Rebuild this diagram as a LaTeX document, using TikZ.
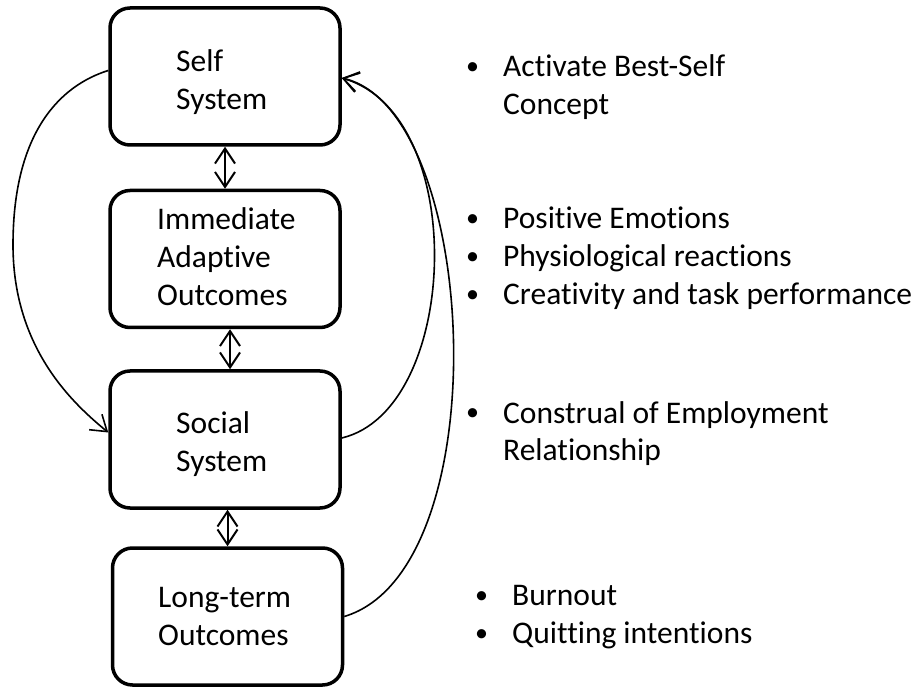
\documentclass[tikz,border=0pt]{standalone}
\usepackage{fontspec}
\setmainfont[Ligatures={NoCommon,NoContextual}]{Carlito}
\usetikzlibrary{arrows.meta}
\newcommand\itemdot{\raisebox{2pt}{\fontsize{26}{26}\selectfont •}}
\begin{document}
\begin{tikzpicture}[x=1pt,y=-1pt,
  box/.style={draw, line width=3.5pt, rounded corners=20pt,
    minimum width=230pt, minimum height=137pt, inner sep=0pt},
  boxtext/.style={anchor=base west, inner sep=0pt,
    font=\fontsize{31.5}{38}\selectfont},
  item/.style={anchor=base west, inner sep=0pt,
    font=\fontsize{31.5}{38}\selectfont},
  barb/.tip={Straight Barb[length=15pt,width=20pt]},
  link/.style={line width=2pt, barb-barb},
  feedback/.style={line width=1.6pt, -barb}]
\useasboundingbox (0,0) rectangle (922,687);

% the four stages
\node[box] (self) at (225,76.5) {};
\node[box] (imm)  at (225,259) {};
\node[box] (soc)  at (225,439.5) {};
\node[box] (long) at (227.5,616.5) {};

\node[boxtext] (selfT) at (176,72)
  {\begin{tabular}[t]{@{}l@{}}Self\\System\end{tabular}};
\node[boxtext] (immT) at (157,230)
  {\begin{tabular}[t]{@{}l@{}}Immediate\\Adaptive\\Outcomes\end{tabular}};
\node[boxtext] (socT) at (176,433)
  {\begin{tabular}[t]{@{}l@{}}Social\\System\end{tabular}};
\node[boxtext] (longT) at (158,607)
  {\begin{tabular}[t]{@{}l@{}}Long-term\\Outcomes\end{tabular}};

% two-way links between neighbouring stages
\draw[link] (self.south) -- (imm.north);
\draw[link] ([xshift=5pt]imm.south) -- ([xshift=5pt]soc.north);
\draw[link] ([xshift=2.5pt]soc.south) -- (long.north);

% self system feeds the social system
\draw[feedback] ([yshift=6pt]self.west)
  .. controls (62,85) and (13,130) .. (13,245)
  .. controls (13,350) and (75,405) .. ([yshift=7pt]soc.west);

% feedback to the self system
\draw[feedback] ([yshift=1.5pt]soc.east)
  .. controls (460,410) and (470,115) .. ([yshift=-1.5pt]self.east);
\draw[feedback] (long.east)
  .. controls (500,570) and (480,110) .. ([yshift=-1.5pt]self.east);

% outcomes listed beside each stage
\node[item] (selfL) at (466,77)
  {\begin{tabular}[t]{@{}p{37pt}@{}l@{}}\itemdot&Activate Best-Self\\&Concept\end{tabular}};
\node[item] (immL) at (466,229)
  {\begin{tabular}[t]{@{}p{37pt}@{}l@{}}\itemdot&Positive Emotions\\\itemdot&Physiological reactions\\\itemdot&Creativity and task performance\end{tabular}};
\node[item] (socL) at (466,423)
  {\begin{tabular}[t]{@{}p{37pt}@{}l@{}}\itemdot&Construal of Employment\\&Relationship\end{tabular}};
\node[item] (longL) at (475,605)
  {\begin{tabular}[t]{@{}p{37pt}@{}l@{}}\itemdot&Burnout\\\itemdot&Quitting intentions\end{tabular}};
\end{tikzpicture}
\end{document}
